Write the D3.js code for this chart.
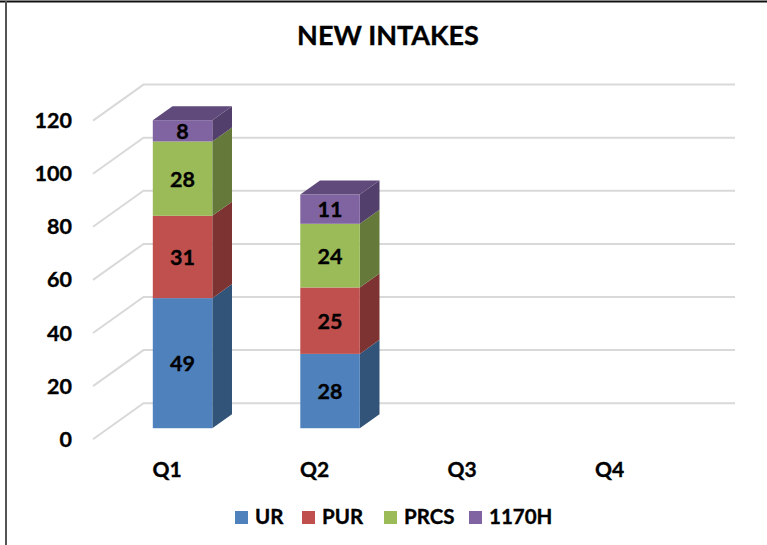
<!DOCTYPE html>
<html><head><meta charset="utf-8">
<script src="https://cdn.jsdelivr.net/npm/d3@7"></script>
<style>html,body{margin:0;padding:0;background:#fff}svg{display:block}text{font-family:Lato,Carlito,sans-serif;font-weight:700;fill:#000;stroke:#000;stroke-width:.35px}</style>
</head><body><svg id="c" width="767" height="545"></svg>
<script>
const categories=["Q1","Q2","Q3","Q4"];
const seriesNames=["UR","PUR","PRCS","1170H"];
const UR=[49,28,null,null];
const PUR=[31,25,null,null];
const PRCS=[28,24,null,null];
const H1170=[8,11,null,null];
const seriesValues=[UR,PUR,PRCS,H1170];
const frontColors=["#4f81bd","#c0504d","#9bbb59","#8064a2"];
const sideColors=["#335479","#7c3331","#64793a","#533f6b"];
const topColors=["#3b6088","#8e3c39","#71873f","#604a7b"];
const yTicks=[0,20,40,60,80,100,120];
const titleText="NEW INTAKES";

const svg=d3.select("#c");
svg.append("path").attr("d","M0,1.5H767").attr("fill","none").attr("stroke","#111").attr("stroke-width",2);
svg.append("path").attr("d","M6,1V545").attr("fill","none").attr("stroke","#555").attr("stroke-width",2);

const y=d3.scaleLinear().domain([0,120]).range([439.2,120.6]);
const x=d3.scaleBand().domain(categories).range([93,683]).paddingInner(0).paddingOuter(0);
const wallDx=50.5, wallDy=-36;
const barInset=0.305, barDepth=0.39, barStart=60, barW=59.5;

const g=svg.append("g");
yTicks.forEach(t=>{
  const yy=y(t);
  g.append("path").attr("d",`M${x.range()[0]},${yy}L${x.range()[0]+wallDx},${yy+wallDy}H735`)
   .attr("fill","none").attr("stroke","#d9d9d9").attr("stroke-width",2);
  g.append("text").attr("x",72).attr("y",yy+7.5).attr("text-anchor","end").attr("font-size",21.5).text(t);
});

const insetY=wallDy*barInset;
const dDx=wallDx*barDepth, dDy=wallDy*barDepth;
const gBars=svg.append("g");
categories.forEach((c,ci)=>{
  let acc=0;
  const x0=x(c)+barStart-0.2, x1=x0+barW;
  seriesValues.forEach((vals,si)=>{
    const v=vals[ci];
    if(v==null) return;
    const yb=y(acc)+insetY, yt=y(acc+v)+insetY;
    gBars.append("path").attr("fill",sideColors[si])
      .attr("d",`M${x1},${yb}L${x1+dDx},${yb+dDy}V${yt+dDy}L${x1},${yt}Z`);
    gBars.append("rect").attr("x",x0).attr("y",yt).attr("width",barW).attr("height",yb-yt).attr("fill",frontColors[si]);
    acc+=v;
  });
  if(acc>0){
    const yt=y(acc)+insetY;
    gBars.append("path").attr("fill",topColors[3])
      .attr("d",`M${x0},${yt}L${x0+dDx},${yt+dDy}H${x1+dDx}L${x1},${yt}Z`);
    let a=0;
    seriesValues.forEach(vals=>{
      const v=vals[ci];
      gBars.append("text").attr("x",(x0+x1)/2).attr("y",y(a+v/2)+insetY+8)
        .attr("text-anchor","middle").attr("font-size",21.5).text(v);
      a+=v;
    });
  }
  svg.append("text").attr("x",x(c)+74).attr("y",477).attr("text-anchor","middle").attr("font-size",21).text(c);
});

svg.append("text").attr("x",388).attr("y",44.5).attr("text-anchor","middle").attr("font-size",27).text(titleText);

const legendX=[235,302,384,469];
seriesNames.forEach((n,i)=>{
  svg.append("rect").attr("x",legendX[i]).attr("y",511).attr("width",13).attr("height",13).attr("fill",frontColors[i]);
  svg.append("text").attr("x",legendX[i]+20).attr("y",524).attr("font-size",20.5).text(n);
});
</script></body></html>
